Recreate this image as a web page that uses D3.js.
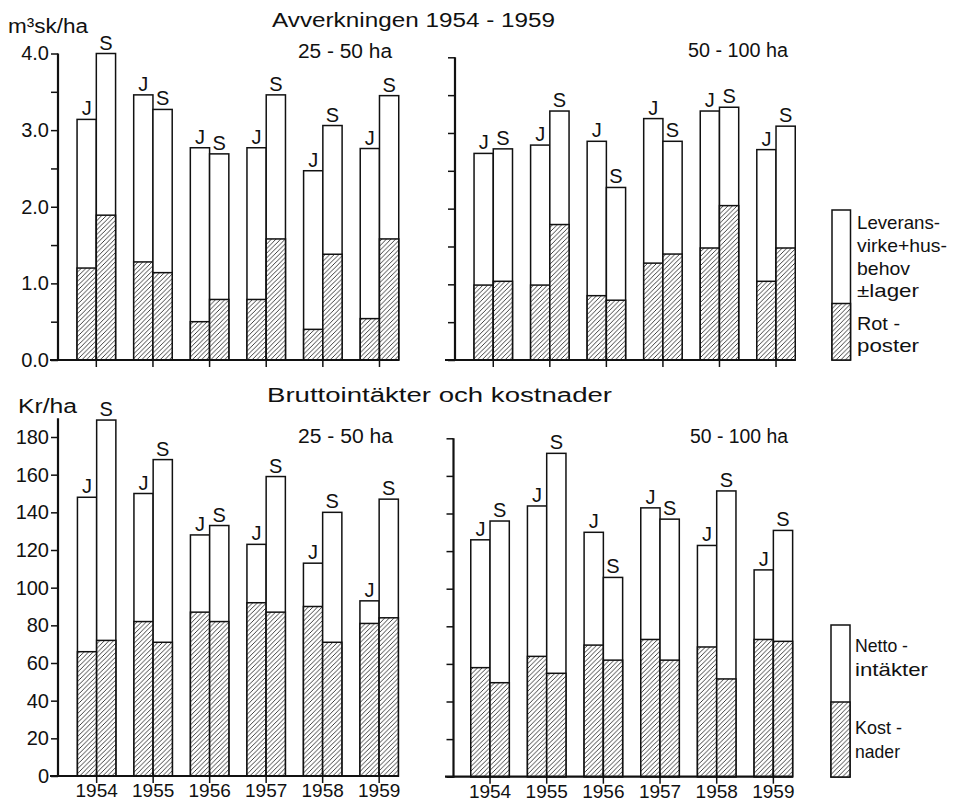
<!DOCTYPE html>
<html><head><meta charset="utf-8">
<script src="https://cdn.jsdelivr.net/npm/d3@7/dist/d3.min.js"></script>
<style>
body{margin:0;background:#fff}
text{font-family:"Liberation Sans",Arial,sans-serif;fill:#111}
</style>
</head><body>
<svg id="chart" width="959" height="806"></svg>
<script>
// ---------------- DATA ----------------
const years = ["1954","1955","1956","1957","1958","1959"];
const groups = ["J","S"];

// Avverkningen (m3sk/ha), 25-50 ha: total height and hatched "Rotposter" part
const volSmallTotalJ = [3.14, 3.46, 2.77, 2.77, 2.47, 2.76];
const volSmallRotJ   = [1.20, 1.28, 0.50, 0.79, 0.40, 0.54];
const volSmallTotalS = [4.00, 3.27, 2.69, 3.46, 3.06, 3.45];
const volSmallRotS   = [1.89, 1.14, 0.79, 1.58, 1.38, 1.58];

// Avverkningen (m3sk/ha), 50-100 ha
const volLargeTotalJ = [2.73, 2.84, 2.89, 3.19, 3.29, 2.78];
const volLargeRotJ   = [0.99, 0.99, 0.85, 1.28, 1.48, 1.04];
const volLargeTotalS = [2.79, 3.29, 2.28, 2.89, 3.34, 3.09];
const volLargeRotS   = [1.04, 1.79, 0.79, 1.40, 2.04, 1.48];

// Bruttointäkter (total) och kostnader (hatched), Kr/ha, 25-50 ha
const krSmallBruttoJ = [148, 150, 128, 123, 113, 93];
const krSmallKostJ   = [66, 82, 87, 92, 90, 81];
const krSmallBruttoS = [189, 168, 133, 159, 140, 147];
const krSmallKostS   = [72, 71, 82, 87, 71, 84];

// Kr/ha, 50-100 ha
const krLargeBruttoJ = [126, 144, 130, 143, 123, 110];
const krLargeKostJ   = [58, 64, 70, 73, 69, 73];
const krLargeBruttoS = [136, 172, 106, 137, 152, 131];
const krLargeKostS   = [50, 55, 62, 62, 52, 72];

const volTicks = [0, 0.5, 1, 1.5, 2, 2.5, 3, 3.5, 4];
const volTickLabels = [0, 1, 2, 3, 4];
const krTicks = [0, 20, 40, 60, 80, 100, 120, 140, 160, 180];

const topTitle = "Avverkningen 1954 - 1959";
const bottomTitle = "Bruttointäkter och kostnader";
const legendTop = {upper:["Leverans-","virke+hus-","behov","±lager"], lower:["Rot -","poster"]};
const legendBottom = {upper:["Netto -","intäkter"], lower:["Kost -","nader"]};

// ---------------- DRAW ----------------
const svg = d3.select("#chart");
const defs = svg.append("defs");
const pat = defs.append("pattern").attr("id","hatch")
  .attr("patternUnits","userSpaceOnUse").attr("width",4.6).attr("height",4.6);
pat.append("rect").attr("width",4.6).attr("height",4.6).attr("fill","#fff");
pat.append("path").attr("d","M-1.15,1.15 L1.15,-1.15 M0,4.6 L4.6,0 M3.45,5.75 L5.75,3.45")
  .attr("stroke","#111").attr("stroke-width",0.8);

const panels = [
  {tot:[volSmallTotalJ,volSmallTotalS], low:[volSmallRotJ,volSmallRotS], domain:[0,4], yr:[360,53.5], axTop:4,
   ax:58, xl:[50,399], xr:[68,407.8], ticks:volTicks, labels:volTickLabels, fmt:d3.format(".1f"), years:false},
  {tot:[volLargeTotalJ,volLargeTotalS], low:[volLargeRotJ,volLargeRotS], domain:[0,4], yr:[360,57.3], axTop:4,
   ax:455, xl:[445,795], xr:[465,804.3], ticks:volTicks, labels:[], fmt:d3.format(".1f"), years:false},
  {tot:[krSmallBruttoJ,krSmallBruttoS], low:[krSmallKostJ,krSmallKostS], domain:[0,180], yr:[776,437], axTop:190,
   ax:58, xl:[50,399], xr:[68.4,407.4], ticks:krTicks, labels:krTicks, fmt:d3.format("d"), years:true},
  {tot:[krLargeBruttoJ,krLargeBruttoS], low:[krLargeKostJ,krLargeKostS], domain:[0,180], yr:[776.7,438.3], axTop:180,
   ax:453.5, xl:[445,793], xr:[461.7,801.7], ticks:krTicks, labels:[], fmt:d3.format("d"), years:true}
];

panels.forEach(p => {
  const y = d3.scaleLinear().domain(p.domain).range(p.yr);
  const x = d3.scaleBand().domain(years).range(p.xr).paddingInner(0.32).paddingOuter(0.16);
  const xs = d3.scaleBand().domain(groups).range([0, x.bandwidth()]);
  const g = svg.append("g");

  // bars
  years.forEach((yr, i) => {
    groups.forEach((grp, k) => {
      const bx = x(yr) + xs(grp), bw = xs.bandwidth();
      const tot = p.tot[k][i], low = p.low[k][i];
      g.append("rect").attr("x",bx).attr("y",y(tot)).attr("width",bw).attr("height",y(0)-y(tot))
        .attr("fill","#fff").attr("stroke","#111").attr("stroke-width",1.5);
      g.append("rect").attr("x",bx).attr("y",y(low)).attr("width",bw).attr("height",y(0)-y(low))
        .attr("fill","url(#hatch)").attr("stroke","#111").attr("stroke-width",1.5);
      g.append("text").attr("x",bx+bw/2).attr("y",y(tot)-4).attr("text-anchor","middle")
        .attr("font-size",20).text(grp);
    });
  });

  // y axis
  const yAxis = d3.axisLeft(y).tickValues(p.ticks).tickSize(7).tickPadding(2)
    .tickFormat(d => p.labels.includes(d) ? p.fmt(d) : "");
  const ya = g.append("g").attr("transform",`translate(${p.ax},0)`).call(yAxis);
  ya.select(".domain").remove();
  ya.selectAll(".tick line").attr("stroke","#111").attr("stroke-width",1.5);
  ya.selectAll(".tick text").attr("font-size",20).attr("fill","#111")
    .style("font-family","'Liberation Sans',Arial,sans-serif");
  g.append("line").attr("x1",p.ax).attr("x2",p.ax).attr("y1",y(0)+1).attr("y2",y(p.axTop))
    .attr("stroke","#111").attr("stroke-width",2.2);

  // x axis
  const xAxis = d3.axisBottom(x).tickSize(7).tickPadding(1)
    .tickFormat(d => p.years ? d : "");
  const xa = g.append("g").attr("transform",`translate(0,${y(0)})`).call(xAxis);
  xa.select(".domain").remove();
  xa.selectAll(".tick line").attr("y1",-4).attr("stroke","#111").attr("stroke-width",1.5);
  xa.selectAll(".tick text").attr("font-size",19).attr("fill","#111")
    .style("font-family","'Liberation Sans',Arial,sans-serif");
  g.append("line").attr("x1",p.xl[0]).attr("x2",p.xl[1]).attr("y1",y(0)).attr("y2",y(0))
    .attr("stroke","#111").attr("stroke-width",2.2);
});

// titles and labels
function label(txt, x, y, size, len, anchor){
  const t = svg.append("text").attr("x",x).attr("y",y).attr("font-size",size).text(txt);
  if (anchor) t.attr("text-anchor",anchor);
  if (len) t.attr("textLength",len).attr("lengthAdjust","spacingAndGlyphs");
  return t;
}
label(topTitle, 272, 27, 20, 283);
label(bottomTitle, 267, 402, 20, 345);
label("25 - 50 ha", 298, 58, 20, 94);
label("50 - 100 ha", 688, 57, 20, 100);
label("25 - 50 ha", 298, 443, 20, 95);
label("50 - 100 ha", 690, 443, 20, 98);
label("m³sk/ha", 8, 33, 20, 80);
label("Kr/ha", 18, 413, 20, 59);

// legends
function legend(box, lines, yLines, tx, lens){
  const yl = d3.scaleLinear().domain([0,1]).range([box.y1, box.y0]);
  svg.append("rect").attr("x",box.x).attr("y",yl(1)).attr("width",box.w).attr("height",yl(0)-yl(1))
    .attr("fill","#fff").attr("stroke","#111").attr("stroke-width",1.5);
  svg.append("rect").attr("x",box.x).attr("y",yl(box.split)).attr("width",box.w).attr("height",yl(0)-yl(box.split))
    .attr("fill","url(#hatch)").attr("stroke","#111").attr("stroke-width",1.5);
  lines.forEach((l,i) => label(l, tx, yLines[i], 19, lens[i]));
}
legend({x:832,w:18.5,y0:210,y1:360,split:(360-303.5)/150}, legendTop.upper.concat(legendTop.lower),
  [229, 252, 275, 297, 330, 352], 857, [83, 90, 53, 62, 43, 62]);
legend({x:831,w:19,y0:625,y1:777,split:(777-702)/152}, legendBottom.upper.concat(legendBottom.lower),
  [652, 676, 734, 758], 855, [53, 73, 47, 45]);
</script>
</body></html>
